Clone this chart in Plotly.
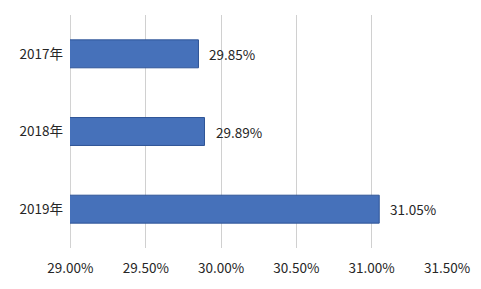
import plotly.graph_objects as go

categories = ["2017年", "2018年", "2019年"]
values = [29.85, 29.89, 31.05]
tick_vals = [29.0, 29.5, 30.0, 30.5, 31.0, 31.5]
tick_text = ["29.00%", "29.50%", "30.00%", "30.50%", "31.00%", "31.50%"]

font_family = "Noto Sans CJK SC, Noto Sans, sans-serif"
txt_color = "#262626"
grid_color = "#D0D0D0"

fig = go.Figure(go.Bar(
    y=categories,
    x=values,
    orientation="h",
    width=0.36,
    marker=dict(color="#4671BA", line=dict(color="#2F5597", width=1)),
    hoverinfo="skip",
))

for c, v in zip(categories, values):
    fig.add_annotation(
        x=v, y=c, text=f"{v:.2f}%", showarrow=False,
        xanchor="left", xshift=9,
        font=dict(family=font_family, size=13.5, color=txt_color),
    )

# gridline at the left edge of the range (plotly omits edge gridlines)
fig.add_shape(type="line", xref="x", yref="paper",
              x0=tick_vals[0], x1=tick_vals[0], y0=0, y1=1,
              line=dict(color=grid_color, width=1), layer="below")

fig.update_layout(
    width=481, height=289,
    margin=dict(l=70, r=34, t=15, b=41),
    paper_bgcolor="white",
    plot_bgcolor="white",
    showlegend=False,
    font=dict(family=font_family, size=13.5, color=txt_color),
    xaxis=dict(
        range=[28.997, 31.5],
        tickvals=tick_vals,
        ticktext=tick_text,
        showgrid=True,
        gridcolor=grid_color,
        gridwidth=1,
        zeroline=False,
        showline=False,
        ticks="",
        ticklabelstandoff=10,
    ),
    yaxis=dict(
        categoryorder="array",
        categoryarray=categories,
        autorange="reversed",
        showgrid=False,
        zeroline=False,
        showline=False,
        ticks="",
        ticklabelstandoff=6,
    ),
)

fig.write_html("out.html")
